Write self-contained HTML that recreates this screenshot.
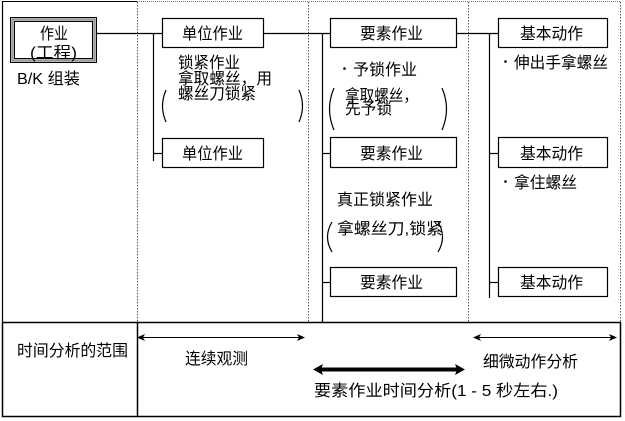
<!DOCTYPE html>
<html><head><meta charset="utf-8"><style>
html,body{margin:0;padding:0;background:#fff;}
svg{display:block;}
text{font-family:"Liberation Sans","Noto Sans CJK SC",sans-serif;font-size:16px;fill:#000;}
</style></head><body>
<svg width="625" height="421" viewBox="0 0 625 421" xmlns="http://www.w3.org/2000/svg">
<rect width="625" height="421" fill="#fff"/>
<!-- frame -->
<line x1="2" y1="1.5" x2="137" y2="1.5" stroke="#000" stroke-width="1"/>
<line x1="137" y1="1.5" x2="620" y2="1.5" stroke="#777" stroke-width="1" stroke-dasharray="1,1"/>
<line x1="2.5" y1="1" x2="2.5" y2="322" stroke="#000" stroke-width="1.2"/>
<g stroke="#555" stroke-width="1" stroke-dasharray="1.5,1.5">
<line x1="137.5" y1="2" x2="137.5" y2="322"/>
<line x1="308.5" y1="2" x2="308.5" y2="322"/>
<line x1="468.5" y1="2" x2="468.5" y2="322"/>
<line x1="620.5" y1="2" x2="620.5" y2="322"/>
</g>
<!-- bottom box -->
<rect x="2.5" y="322.5" width="618" height="94" fill="none" stroke="#000" stroke-width="1.5"/>
<line x1="137.5" y1="322" x2="137.5" y2="417" stroke="#000" stroke-width="1.5"/>

<!-- main box -->
<rect x="10.5" y="17.5" width="86" height="45" fill="#fff" stroke="#000" stroke-width="1"/>
<rect x="12.5" y="19.5" width="82" height="41" fill="none" stroke="#999" stroke-width="2.5"/>
<rect x="14.5" y="21.5" width="78" height="37" fill="none" stroke="#000" stroke-width="1"/>
<text x="40" y="39" textLength="28" lengthAdjust="spacingAndGlyphs">作业</text>
<text x="30" y="58" textLength="47" lengthAdjust="spacingAndGlyphs">(工程)</text>
<text x="17" y="84" textLength="63" lengthAdjust="spacingAndGlyphs">B/K 组装</text>

<!-- connectors -->
<g stroke="#000" stroke-width="1.2" fill="none">
<line x1="97" y1="33.5" x2="162" y2="33.5"/>
<line x1="153.5" y1="33" x2="153.5" y2="161"/>
<line x1="153" y1="153.5" x2="162" y2="153.5"/>
<line x1="264" y1="33.5" x2="330" y2="33.5"/>
<line x1="322.5" y1="33" x2="322.5" y2="322"/>
<line x1="322" y1="153.5" x2="330" y2="153.5"/>
<line x1="322" y1="282.5" x2="330" y2="282.5"/>
<line x1="457" y1="33.5" x2="498" y2="33.5"/>
<line x1="489.5" y1="33" x2="489.5" y2="298"/>
<line x1="489" y1="153.5" x2="498" y2="153.5"/>
<line x1="489" y1="282.5" x2="498" y2="282.5"/>
</g>

<!-- boxes -->
<g fill="#fff" stroke="#000" stroke-width="1.2">
<rect x="162.5" y="18.5" width="101" height="29"/>
<rect x="162.5" y="138.5" width="101" height="29"/>
<rect x="330.5" y="18.5" width="126" height="29"/>
<rect x="330.5" y="137.5" width="126" height="30"/>
<rect x="330.5" y="267.5" width="126" height="29"/>
<rect x="498.5" y="18.5" width="109" height="29"/>
<rect x="498.5" y="137.5" width="109" height="30"/>
<rect x="498.5" y="267.5" width="109" height="29"/>
</g>
<text x="182" y="39" textLength="61" lengthAdjust="spacingAndGlyphs">单位作业</text>
<text x="182" y="159" textLength="61" lengthAdjust="spacingAndGlyphs">单位作业</text>
<text x="360" y="39" textLength="63" lengthAdjust="spacingAndGlyphs">要素作业</text>
<text x="360" y="159" textLength="63" lengthAdjust="spacingAndGlyphs">要素作业</text>
<text x="360" y="288" textLength="63" lengthAdjust="spacingAndGlyphs">要素作业</text>
<text x="520" y="39" textLength="63" lengthAdjust="spacingAndGlyphs">基本动作</text>
<text x="520" y="159" textLength="63" lengthAdjust="spacingAndGlyphs">基本动作</text>
<text x="520" y="288" textLength="63" lengthAdjust="spacingAndGlyphs">基本动作</text>

<!-- unit annotations -->
<text x="178" y="68" textLength="62" lengthAdjust="spacingAndGlyphs">锁紧作业</text>
<text x="178" y="84" textLength="94" lengthAdjust="spacingAndGlyphs">拿取螺丝，用</text>
<text x="178" y="99" textLength="78" lengthAdjust="spacingAndGlyphs">螺丝刀锁紧</text>
<g fill="none" stroke="#000" stroke-width="1.2">
<path d="M166 90 Q159 106 166 122"/>
<path d="M299 90 Q306 106 299 122"/>
<path d="M334 88 Q325 109 334 130"/>
<path d="M442 88 Q451 109 442 130"/>
<path d="M332 222 Q323 237 332 252"/>
<path d="M438 222 Q447 237 438 252"/>
</g>

<!-- element annotations -->
<circle cx="344.5" cy="68.5" r="1.3" fill="#000"/>
<text x="353" y="75" textLength="64" lengthAdjust="spacingAndGlyphs">予锁作业</text>
<text x="345" y="101" textLength="73" lengthAdjust="spacingAndGlyphs">拿取螺丝，</text>
<text x="345" y="114" textLength="47" lengthAdjust="spacingAndGlyphs">先予锁</text>
<text x="337" y="205" textLength="96" lengthAdjust="spacingAndGlyphs">真正锁紧作业</text>
<text x="337" y="234" textLength="106" lengthAdjust="spacingAndGlyphs">拿螺丝刀,锁紧</text>

<!-- basic annotations -->
<circle cx="505.5" cy="61.5" r="1.3" fill="#000"/>
<text x="514" y="68" textLength="94" lengthAdjust="spacingAndGlyphs">伸出手拿螺丝</text>
<circle cx="505.5" cy="181.5" r="1.3" fill="#000"/>
<text x="514" y="188" textLength="63" lengthAdjust="spacingAndGlyphs">拿住螺丝</text>

<!-- bottom section -->
<text x="17" y="356" textLength="111" lengthAdjust="spacingAndGlyphs">时间分析的范围</text>
<g stroke="#000" stroke-width="1">
<line x1="142" y1="337.5" x2="300" y2="337.5"/>
<line x1="478" y1="337.5" x2="612" y2="337.5"/>
</g>
<g fill="#000">
<path d="M137 337.5 L145 334 L143 337.5 L145 341 Z"/>
<path d="M305 337.5 L297 334 L299 337.5 L297 341 Z"/>
<path d="M473 337.5 L481 334 L479 337.5 L481 341 Z"/>
<path d="M617 337.5 L609 334 L611 337.5 L609 341 Z"/>
</g>
<text x="185" y="364" textLength="63" lengthAdjust="spacingAndGlyphs">连续观测</text>
<text x="483" y="367" textLength="95" lengthAdjust="spacingAndGlyphs">细微动作分析</text>
<line x1="320" y1="369.5" x2="458" y2="369.5" stroke="#000" stroke-width="4"/>
<path d="M313 369.5 L323 364 L321 369.5 L323 375 Z" fill="#000"/>
<path d="M465 369.5 L455 364 L457 369.5 L455 375 Z" fill="#000"/>
<text x="314" y="396" textLength="244" lengthAdjust="spacingAndGlyphs">要素作业时间分析(1 - 5 秒左右.)</text>
</svg>
</body></html>
